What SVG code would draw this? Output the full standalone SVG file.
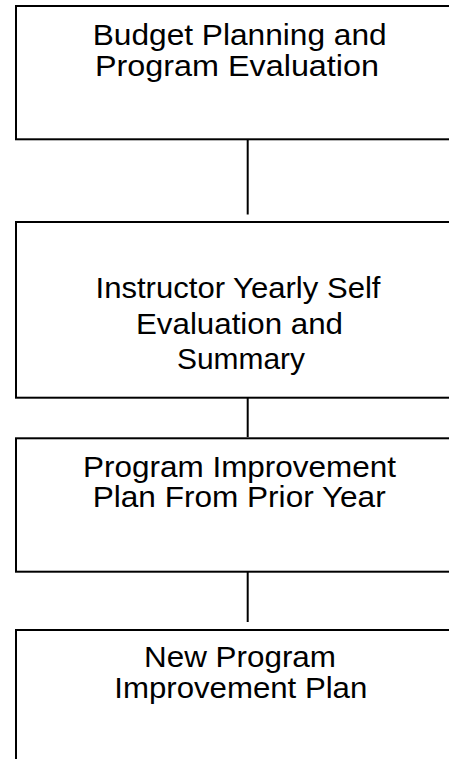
<svg xmlns="http://www.w3.org/2000/svg" width="449" height="759" viewBox="0 0 449 759">
<style>
.box{fill:#fff;stroke:#000;stroke-width:2}
.lbl{font-family:"Liberation Sans",Arial,Helvetica,sans-serif;font-size:29px;fill:#000;text-anchor:middle}
.conn{stroke:#000;stroke-width:2;fill:none}
</style>
<rect width="449" height="759" fill="#fff"/>
<g id="connectors">
<line class="conn" x1="247.7" y1="140" x2="247.7" y2="214.5"/>
<line class="conn" x1="247.7" y1="398" x2="247.7" y2="437"/>
<line class="conn" x1="247.7" y1="572" x2="247.7" y2="622"/>
</g>
<g id="node1">
<rect class="box" x="16" y="6" width="470" height="133.3"/>
<text class="lbl" x="239.7" y="45" textLength="294" lengthAdjust="spacingAndGlyphs">Budget Planning and</text>
<text class="lbl" x="237" y="76" textLength="284" lengthAdjust="spacingAndGlyphs">Program Evaluation</text>
</g>
<g id="node2">
<rect class="box" x="16" y="222" width="470" height="175.7"/>
<text class="lbl" x="238" y="298.3" textLength="285" lengthAdjust="spacingAndGlyphs">Instructor Yearly Self</text>
<text class="lbl" x="239.5" y="334" textLength="207" lengthAdjust="spacingAndGlyphs">Evaluation and</text>
<text class="lbl" x="241" y="369" textLength="128" lengthAdjust="spacingAndGlyphs">Summary</text>
</g>
<g id="node3">
<rect class="box" x="16" y="438.3" width="470" height="133.4"/>
<text class="lbl" x="239.5" y="476.7" textLength="313" lengthAdjust="spacingAndGlyphs">Program Improvement</text>
<text class="lbl" x="239.2" y="507" textLength="293" lengthAdjust="spacingAndGlyphs">Plan From Prior Year</text>
</g>
<g id="node4">
<rect class="box" x="16" y="630" width="470" height="160"/>
<text class="lbl" x="240" y="666.7" textLength="192" lengthAdjust="spacingAndGlyphs">New Program</text>
<text class="lbl" x="240.8" y="697.5" textLength="253" lengthAdjust="spacingAndGlyphs">Improvement Plan</text>
</g>
</svg>
